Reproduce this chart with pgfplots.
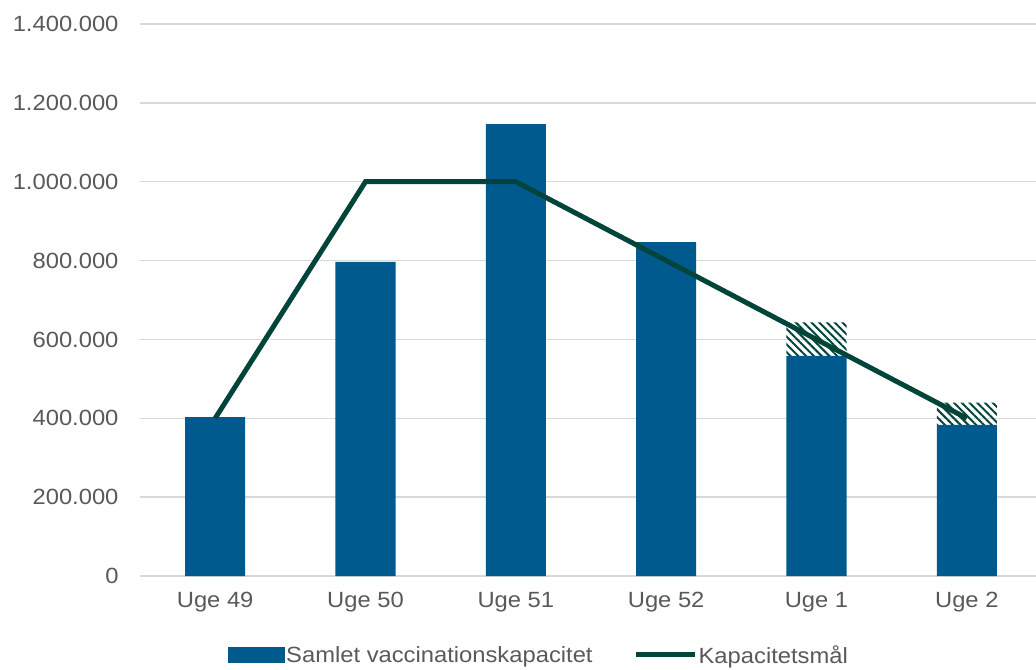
\documentclass[border=0pt]{standalone}
\usepackage{pgfplots}
\pgfplotsset{compat=1.18}
\usepackage{fontspec}
\setmainfont{Liberation Sans}[FakeStretch=1.08]
\usetikzlibrary{patterns.meta}
\definecolor{barblue}{HTML}{005A8E}
\definecolor{linegreen}{HTML}{00443A}
\definecolor{txtgray}{HTML}{595959}
\definecolor{gridgray}{HTML}{D9D9D9}
\pgfplotsset{common/.style={
  at={(0,0)}, anchor=south west,
  scale only axis,
  width=902bp, height=552bp,
  xmin=-0.5, xmax=5.5,
  ymin=0, ymax=1400000}}
\begin{document}
\begin{tikzpicture}
\useasboundingbox (-140bp,-94bp) rectangle (896bp,576bp);
\begin{axis}[
  common,
  ytick={0,200000,...,1400000},
  xtick={0,1,2,3,4,5},
  xticklabels={Uge 49, Uge 50, Uge 51, Uge 52, Uge 1, Uge 2},
  scaled y ticks=false,
  /pgf/number format/.cd, fixed, 1000 sep={.}, assume math mode=true,
  /pgfplots/.cd,
  axis line style={draw=none},
  major tick length=0pt,
  ymajorgrids,
  grid style={gridgray, line width=1.3bp},
  tick label style={font=\fontsize{22bp}{26bp}\selectfont, text=txtgray},
  yticklabel style={xshift=-18bp},
  xticklabel style={yshift=-13bp},
  ybar stacked, bar width=0.4,
  legend style={at={(0.0943,-0.143)}, anchor=west, draw=none, fill=none,
    font=\fontsize{22bp}{26bp}\selectfont, text=txtgray,
    nodes={inner xsep=1bp},
    legend columns=2, legend cell align=left,
    /tikz/every even column/.append style={column sep=40bp}},
]
\addplot[fill=barblue, draw=none,
  legend image code/.code={\fill[barblue] (0bp,-8bp) rectangle (57bp,8bp);}]
  coordinates {(0,403000) (1,797000) (2,1146000) (3,847000) (4,558000) (5,383000)};
\addlegendentry{Samlet vaccinationskapacitet}
% hatched top (gap up to the capacity target)
\addplot[forget plot, draw=none, pattern={Lines[angle=-45,distance=5.5bp,line width=2bp]}, pattern color=linegreen]
  coordinates {(0,0) (1,0) (2,0) (3,0) (4,85000) (5,57000)};
\addlegendimage{legend image code/.code={\draw[linegreen, line width=5bp] (0bp,0bp) -- (59bp,0bp);}}
\addlegendentry{Kapacitetsmål}
\end{axis}
\begin{axis}[common, hide axis]
\addplot[sharp plot, linegreen, line width=5bp, mark=none]
  coordinates {(0,400000) (1,1000000) (2,1000000) (3,800000) (4,600000) (5,400000)};
\end{axis}
\end{tikzpicture}
\end{document}
